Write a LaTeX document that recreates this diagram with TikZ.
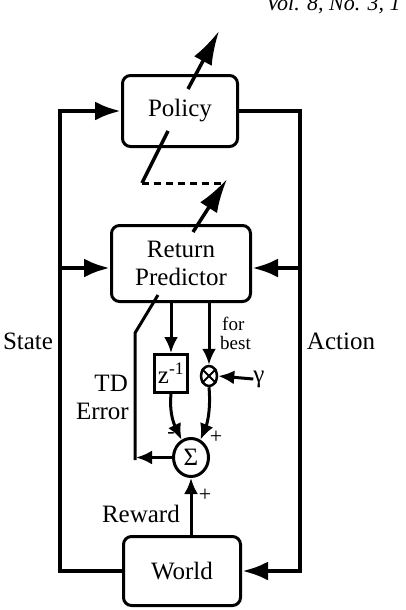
\documentclass[tikz,border=0pt]{standalone}
\usepackage{fontspec}
\setmainfont{Liberation Serif}
\usetikzlibrary{arrows.meta,shapes.geometric}
\begin{document}
\begin{tikzpicture}[x=1pt,y=-1pt,
  box/.style={draw,line width=3pt,rounded corners=8pt,inner sep=0pt,align=center,font=\fontsize{25}{28}\selectfont},
  loopline/.style={line width=4.5pt},
  sigline/.style={line width=3pt},
  bigtip/.style={-{Latex[length=26pt,width=19pt]}},
  smalltip/.style={-{Latex[length=16pt,width=14pt]}},
  slanttip/.style={-{Latex[length=34pt,width=20pt]}},
  lbl/.style={inner sep=0pt,font=\fontsize{25}{28}\selectfont},
  smalllbl/.style={inner sep=0pt,font=\fontsize{19}{19}\selectfont},
  sign/.style={inner sep=0pt,font=\fontsize{22}{22}\selectfont}
]
\useasboundingbox (0,0) rectangle (406,610);

% header fragment
\node[inner sep=0pt,anchor=base west,font=\fontsize{22}{22}\selectfont\itshape] (hdr) at (266,11) {Vol. 8, No. 3, 1};

% boxes
\node[box,minimum width=115pt,minimum height=71pt] (pol) at (180,111) {Policy};
\node[box,minimum width=139pt,minimum height=76pt] (rp) at (181,263.5) {Return\\Predictor};
\node[box,minimum width=117pt,minimum height=69pt] (wor) at (182,571) {World};
\node[draw,line width=3pt,minimum width=33pt,minimum height=38pt,inner sep=0pt,font=\fontsize{25}{28}\selectfont] (zb) at (171,373.5) {z\textsuperscript{-1}};
\node[ellipse,draw,line width=3pt,minimum width=35pt,minimum height=38pt,inner sep=0pt,font=\fontsize{25}{28}\selectfont] (sig) at (191,457.5) {Σ};
\node[ellipse,draw,line width=2.5pt,minimum width=16pt,minimum height=20pt,inner sep=0pt] (ot) at (209,376) {};
\draw[line width=2pt] (ot.45) -- (ot.225) (ot.135) -- (ot.315);

% labels
\node[lbl,anchor=base] (state) at (28,349) {State};
\node[lbl,anchor=base] (action) at (341,349) {Action};
\node[lbl,anchor=base east] (td) at (128,391) {TD};
\node[lbl,anchor=base east] (err) at (129,419) {Error};
\node[smalllbl,anchor=base west] (for) at (222,330) {for};
\node[smalllbl,anchor=base west] (best) at (220,349) {best};
\node[lbl,anchor=base east] (rew) at (180,522) {Reward};
\node[lbl] (gam) at (259,379) {γ};
\node[sign] (minus) at (171,435) {-};
\node[sign] (plusa) at (216,437) {+};
\node[sign] (plusb) at (205,495) {+};

% coordinates
\coordinate (sx) at (60,0);
\coordinate (ax) at (300,0);
\coordinate (smid) at (60,268);
\coordinate (amid) at (300,268);
\coordinate (tdx) at (136,0);
\coordinate (tdTop) at (158,295);
\coordinate (tdCorner) at (135,333);
\coordinate (tdBot) at (135,460);
\coordinate (pA) at (188,89);
\coordinate (pB) at (219,31);
\coordinate (pC) at (168,131);
\coordinate (pD) at (142,183);
\coordinate (pE) at (222,183);
\coordinate (rA) at (193,232);
\coordinate (rB) at (227,179);

% outer loop
\draw[loopline,bigtip] (wor.west) -- (sx |- wor.west) -- (sx |- pol.west) -- (pol.west);
\draw[loopline,bigtip] (smid) -- (rp.west |- smid);
\draw[loopline,bigtip] (pol.east) -- (ax |- pol.east) -- (ax |- wor.east) -- (wor.east);
\draw[loopline,bigtip] (amid) -- (rp.east |- amid);

% slanted weight arrows
\draw[line width=3.5pt,slanttip] (pA) -- (pB);
\draw[line width=3.5pt] (pC) -- (pD);
\draw[line width=3pt,dash pattern=on 7pt off 5pt] (pD) -- (pE);
\draw[line width=3.5pt,slanttip] (rA) -- (rB);

% inner signals
\draw[sigline,smalltip] (rp.south -| zb.north) -- (zb.north);
\draw[sigline,smalltip] (rp.south -| ot.north) -- (ot.north);
\draw[sigline,smalltip] (gam.west) -- (ot.east);
\draw[sigline,smalltip] (zb.south) .. controls (169,415) and (175,426) .. (sig.118);
\draw[sigline,smalltip] (ot.south) .. controls (211,410) and (207,424) .. (sig.62);
\draw[sigline,smalltip] (wor.north -| sig.south) -- (sig.south);
\draw[sigline,smalltip] (sig.west) -- (tdx |- sig.west);
\draw[sigline] (tdTop) -- (tdCorner) -- (tdBot);
\end{tikzpicture}
\end{document}
